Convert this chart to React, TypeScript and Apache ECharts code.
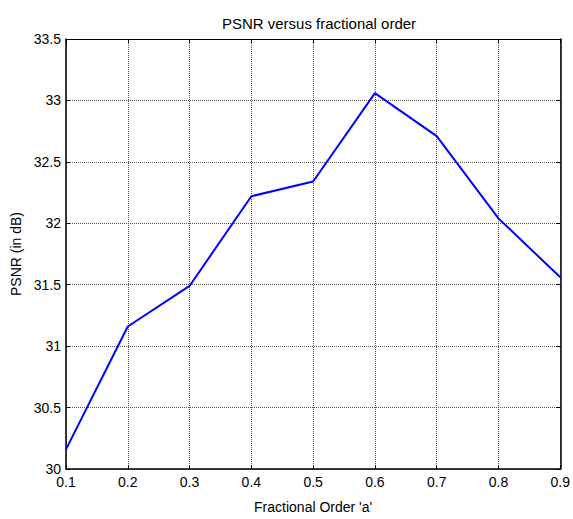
import React, { useEffect, useRef } from "react";
import * as echarts from "echarts";

const xValues = [0.1, 0.2, 0.3, 0.4, 0.5, 0.6, 0.7, 0.8, 0.9];
const psnr = [30.16, 31.16, 31.49, 32.22, 32.34, 33.06, 32.71, 32.04, 31.56];

const FONT = "Liberation Sans, Arial, sans-serif";

export default function App() {
  const ref = useRef<HTMLDivElement>(null);
  useEffect(() => {
    if (!ref.current) return;
    const chart = echarts.init(ref.current, undefined, { renderer: "svg" });
    const tickLabel = { color: "#000", fontFamily: FONT, fontSize: 14 };
    const gridLine = { show: true, lineStyle: { color: "#555", type: [1, 1] as any, width: 1 } };
    chart.setOption({
      animation: false,
      backgroundColor: "#fff",
      title: {
        text: "PSNR versus fractional order",
        left: 314,
        top: 11,
        textAlign: "center",
        textStyle: { fontFamily: FONT, fontSize: 15, fontWeight: "normal", color: "#000" },
      },
      grid: { left: 66, right: 11, top: 39, bottom: 45 },
      xAxis: [
        {
          type: "value",
          min: 0.1,
          max: 0.9,
          interval: 0.1,
          position: "bottom",
          name: "Fractional Order 'a'",
          nameLocation: "middle",
          nameGap: 31,
          nameTextStyle: { fontFamily: FONT, fontSize: 14, color: "#000" },
          axisLine: { show: true, lineStyle: { color: "#000", width: 1.5 } },
          axisTick: { show: true, inside: true, length: 4, lineStyle: { color: "#000" } },
          axisLabel: { ...tickLabel, margin: 6, formatter: (v: number) => String(Math.round(v * 10) / 10) },
          splitLine: gridLine,
        },
        {
          type: "value",
          min: 0.1,
          max: 0.9,
          interval: 0.1,
          position: "top",
          axisLine: { show: true, lineStyle: { color: "#000", width: 1 } },
          axisTick: { show: true, inside: true, length: 4, lineStyle: { color: "#000" } },
          axisLabel: { show: false },
          splitLine: { show: false },
        },
      ],
      yAxis: [
        {
          type: "value",
          min: 30,
          max: 33.5,
          interval: 0.5,
          position: "left",
          name: "PSNR (in dB)",
          nameLocation: "middle",
          nameGap: 41,
          nameTextStyle: { fontFamily: FONT, fontSize: 14, color: "#000" },
          axisLine: { show: true, lineStyle: { color: "#000", width: 1.5 } },
          axisTick: { show: true, inside: true, length: 4, lineStyle: { color: "#000" } },
          axisLabel: { ...tickLabel, margin: 5 },
          splitLine: gridLine,
        },
        {
          type: "value",
          min: 30,
          max: 33.5,
          interval: 0.5,
          position: "right",
          axisLine: { show: true, lineStyle: { color: "#000", width: 1.5 } },
          axisTick: { show: true, inside: true, length: 4, lineStyle: { color: "#000" } },
          axisLabel: { show: false },
          splitLine: { show: false },
        },
      ],
      series: [
        {
          type: "line",
          data: xValues.map((x, i) => [x, psnr[i]]),
          xAxisIndex: 0,
          yAxisIndex: 0,
          showSymbol: false,
          symbol: "none",
          lineStyle: { color: "#0000ff", width: 2 },
        },
      ],
    });
    return () => chart.dispose();
  }, []);
  return <div ref={ref} style={{ width: 573, height: 519, position: "absolute", left: 0, top: 0 }} />;
}
